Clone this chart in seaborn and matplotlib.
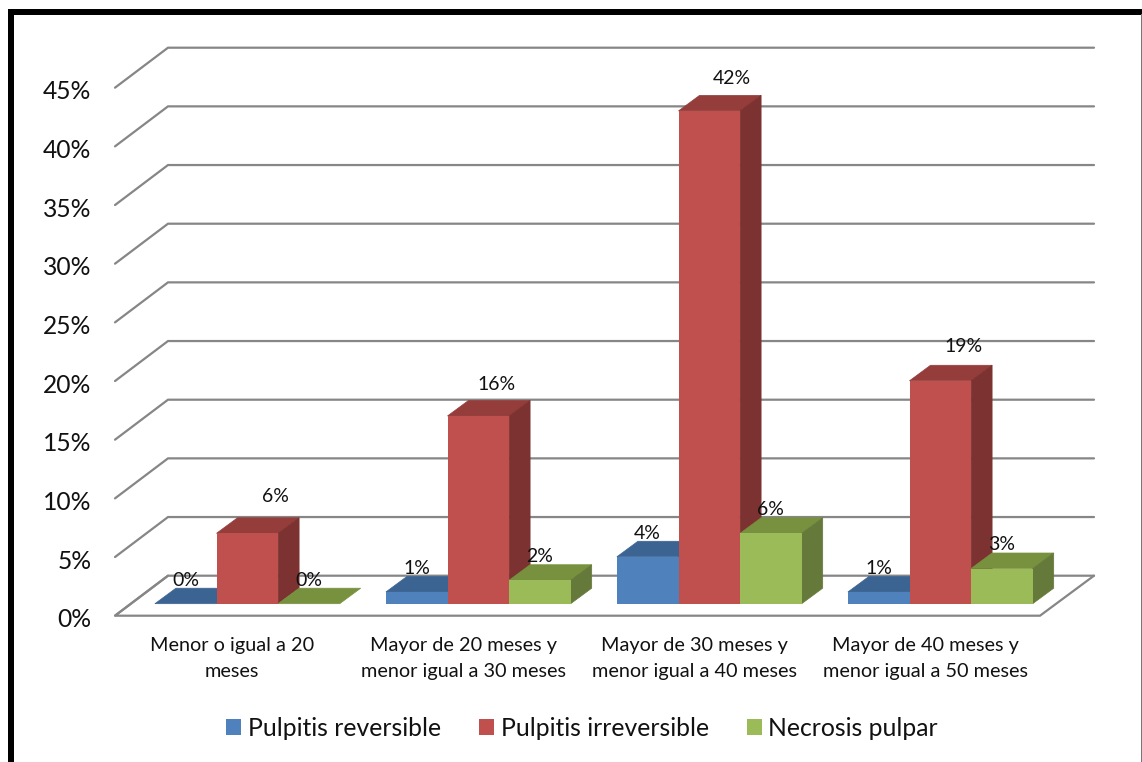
import matplotlib
matplotlib.use("Agg")
import matplotlib.pyplot as plt
from matplotlib.patches import Polygon, Rectangle
from matplotlib.transforms import Affine2D
import pandas as pd
import seaborn as sns

categories = ["Menor o igual a 20\nmeses",
              "Mayor de 20 meses y\nmenor igual a 30 meses",
              "Mayor de 30 meses y\nmenor igual a 40 meses",
              "Mayor de 40 meses y\nmenor igual a 50 meses"]
pulpitis_reversible = [0, 1, 4, 1]
pulpitis_irreversible = [6, 16, 42, 19]
necrosis_pulpar = [0, 2, 6, 3]
series_names = ["Pulpitis reversible", "Pulpitis irreversible", "Necrosis pulpar"]
y_ticks = [0, 5, 10, 15, 20, 25, 30, 35, 40, 45]

front_colors = ["#4F81BD", "#C0504D", "#9BBB59"]
top_colors = ["#3C6492", "#943D3B", "#78913F"]
side_colors = ["#3A6190", "#7C3230", "#657A3A"]

W, H = 1142, 762
sns.set_theme(style="white")
plt.rcParams["font.family"] = ["Lato", "DejaVu Sans"]

df = pd.DataFrame({
    "grupo": categories * 3,
    "serie": sum([[n] * 4 for n in series_names], []),
    "valor": pulpitis_reversible + pulpitis_irreversible + necrosis_pulpar,
})

fig = plt.figure(figsize=(W / 100, H / 100), dpi=100, facecolor="white")
left, right, base, top = 131.8, 1055.8, 603.7, 75.7
ax = fig.add_axes([left / W, (H - base) / H, (right - left) / W, (base - top) / H])
sns.barplot(data=df, x="grupo", y="valor", hue="serie", hue_order=series_names,
            palette=front_colors, saturation=1, width=0.8, gap=0, ax=ax, legend=True,
            linewidth=0, errorbar=None)
ax.set_xlim(-0.5, 3.5)
ax.set_ylim(0, 45)
ax.set_xlabel("")
ax.set_ylabel("")
sns.despine(ax=ax, left=True, bottom=True)
ax.patch.set_alpha(0)

px_x = (right - left) / 4
px_y = (base - top) / 45

# wall and floor grid, in data units
x0, x1 = -0.5, 3.5
fx0, fx1 = x0 - 16.8 / px_x, x1 - 15.8 / px_x
bx0, bx1 = x0 + 36.2 / px_x, x1 + 38.2 / px_x
fy, by = -12 / px_y, 28 / px_y
gray = "#868686"
for t in y_ticks:
    ax.plot([fx0, bx0, bx1], [t + fy, t + by, t + by], color=gray, lw=1.6,
            clip_on=False, zorder=0.5, solid_joinstyle="miter")
ax.plot([bx0, fx0, fx1, bx1], [by, fy, fy, by], color=gray, lw=1.6,
        clip_on=False, zorder=0.5, solid_joinstyle="miter")

# 3-D faces derived from the bars that seaborn drew
ddx, ddy = 21 / px_x, 15.5 / px_y
bars = list(ax.patches)[:12]
for i, bar in enumerate(bars):
    s = i // 4
    z = 2 + (i % 4) * 3 + s * 0.5
    xa, w, h = bar.get_x(), bar.get_width(), bar.get_height()
    bar.set_zorder(z + 0.2)
    ax.add_patch(Polygon([(xa, h), (xa + w, h), (xa + w + ddx, h + ddy), (xa + ddx, h + ddy)],
                         closed=True, fc=top_colors[s], ec=top_colors[s], lw=0.5,
                         zorder=z + 0.1, clip_on=False))
    if h > 0:
        ax.add_patch(Polygon([(xa + w, 0), (xa + w + ddx, ddy), (xa + w + ddx, h + ddy), (xa + w, h)],
                             closed=True, fc=side_colors[s], ec=side_colors[s], lw=0.5,
                             zorder=z + 0.1, clip_on=False))

# data labels
red_offsets = [(28, 38), (18, 32), (23, 33), (23, 35)]
for i, bar in enumerate(bars):
    s, c = i // 4, i % 4
    ox, oy = red_offsets[c] if s == 1 else (0, 24.5)
    ax.annotate(f"{bar.get_height():.0f}%", (bar.get_x() + bar.get_width() / 2, bar.get_height()),
                xytext=(ox * 0.72, (oy - 1) * 0.72), textcoords="offset points", ha="center", va="center",
                fontsize=14, color="#111111", zorder=50, annotation_clip=False)

# ticks
ax.set_yticks(y_ticks)
ax.set_yticklabels([f"{t}%" for t in y_ticks], fontsize=17.7, color="#111111")
ax.tick_params(axis="y", length=0, pad=29)
for lab in ax.get_yticklabels():
    lab.set_transform(lab.get_transform() + Affine2D().translate(0, -14))
ax.tick_params(axis="x", length=0, pad=24.2)
for lab in ax.get_xticklabels():
    lab.set_fontsize(14.3)
    lab.set_color("#111111")
    lab.set_linespacing(1.6)
    lab.set_transform(lab.get_transform() + Affine2D().translate(-15, 0))

# legend
sns.move_legend(ax, "center", bbox_to_anchor=(582 / W, (H - 728) / H),
                bbox_transform=fig.transFigure, ncol=3, frameon=False, title=None,
                fontsize=17.8, handlelength=0.61, handleheight=0.61, handletextpad=0.27,
                columnspacing=1.53, borderpad=0)
for t in ax.get_legend().get_texts():
    t.set_color("#111111")

# slide frame
for (x, y, w, h, col) in [(8, 9, 5.5, H, "black"), (8, 9, W, 5.5, "black"), (1140.5, 14, 1.2, H, "#777777")]:
    fig.add_artist(Rectangle((x / W, 1 - (y + h) / H), w / W, h / H, transform=fig.transFigure,
                             fc=col, ec="none", zorder=100))

fig.savefig("out.png", dpi=100, facecolor="white")
